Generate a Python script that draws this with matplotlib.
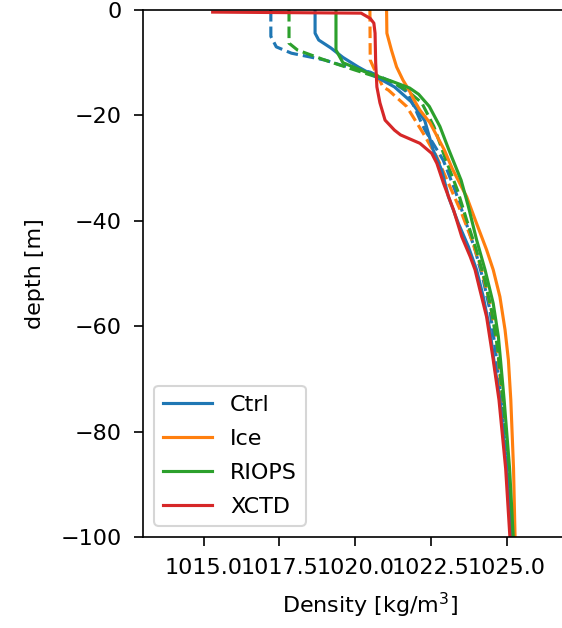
import matplotlib
matplotlib.use("Agg")
import matplotlib.pyplot as plt

# Density profiles (kg/m^3) against depth (m); "_sat" profiles are drawn dashed
ctrl_depth = [0, -4.4, -5.7, -7.2, -9.0, -10.8, -12.7, -14.6, -17.4, -21.0, -25.0, -26.6, -30.4, -35.4, -40.5, -44.9, -49.3, -54.4, -60.7, -66.4, -74.0, -87.0, -100.0]
ctrl_rho = [1018.68, 1018.68, 1018.80, 1019.20, 1019.60, 1020.10, 1020.70, 1021.30, 1021.85, 1022.30, 1022.50, 1022.58, 1022.86, 1023.08, 1023.41, 1023.74, 1024.01, 1024.23, 1024.45, 1024.58, 1024.78, 1025.00, 1025.16]

ctrl_sat_depth = [0, -5.0, -7.0, -8.2, -8.9, -9.5, -10.4, -11.8, -13.9, -15.5, -18.3, -20.9, -22.8, -28.5, -34.2, -39.8, -45.5, -51.2, -56.9, -63.9, -74.0, -87.0, -100.0]
ctrl_sat_rho = [1017.22, 1017.22, 1017.40, 1017.90, 1018.50, 1019.00, 1019.50, 1020.50, 1021.30, 1021.70, 1021.95, 1022.15, 1022.31, 1022.91, 1023.30, 1023.63, 1023.96, 1024.23, 1024.45, 1024.62, 1024.82, 1025.02, 1025.18]

ice_depth = [0, -4.4, -7.6, -10.8, -13.3, -15.2, -17.1, -19.0, -21.4, -26.6, -30.0, -34.2, -35.4, -40.5, -45.5, -49.3, -54.4, -60.7, -66.4, -74.0, -87.0, -100.0]
ice_rho = [1021.04, 1021.05, 1021.20, 1021.37, 1021.58, 1021.78, 1021.95, 1022.14, 1022.47, 1022.95, 1023.20, 1023.57, 1023.68, 1024.01, 1024.34, 1024.56, 1024.78, 1024.95, 1025.06, 1025.14, 1025.23, 1025.28]

ice_sat_depth = [0, -9.5, -10.8, -12.0, -14.6, -15.2, -18.3, -23.4, -27.8, -33.5, -38.6, -43.6, -49.3, -55.7, -62.0, -74.0, -87.0, -100.0]
ice_sat_rho = [1020.49, 1020.50, 1020.60, 1020.70, 1020.92, 1021.10, 1021.70, 1022.25, 1022.69, 1023.13, 1023.52, 1023.85, 1024.18, 1024.45, 1024.67, 1024.85, 1025.05, 1025.18]

riops_depth = [0, -7.6, -10.0, -11.9, -13.5, -14.8, -16.0, -18.3, -22.1, -26.6, -32.3, -37.3, -43.6, -49.3, -55.7, -62.0, -66.4, -74.0, -87.0, -100.0]
riops_rho = [1019.37, 1019.37, 1019.60, 1020.40, 1021.20, 1021.80, 1022.10, 1022.45, 1022.80, 1023.10, 1023.50, 1023.74, 1024.01, 1024.29, 1024.56, 1024.73, 1024.80, 1024.92, 1025.10, 1025.22]

riops_sat_depth = [0, -6.3, -7.6, -9.5, -11.4, -13.6, -15.2, -17.6, -22.1, -28.5, -34.2, -39.8, -45.5, -51.2, -56.9, -64.0, -74.0, -87.0, -100.0]
riops_sat_rho = [1017.82, 1017.82, 1018.10, 1019.00, 1020.00, 1021.20, 1021.70, 1022.20, 1022.60, 1023.00, 1023.38, 1023.68, 1024.00, 1024.28, 1024.50, 1024.70, 1024.88, 1025.06, 1025.21]

xctd_depth = [-0.4, -0.6, -1.6, -2.5, -4.4, -10.0, -14.6, -17.6, -20.9, -22.8, -23.7, -25.3, -27.2, -29.1, -32.9, -37.95, -43.0, -46.8, -49.3, -53.1, -58.2, -66.0, -74.0, -87.0, -100.0]
xctd_rho = [1015.30, 1020.20, 1020.50, 1020.62, 1020.66, 1020.68, 1020.72, 1020.82, 1020.99, 1021.30, 1021.50, 1022.14, 1022.53, 1022.70, 1022.92, 1023.25, 1023.52, 1023.80, 1023.96, 1024.12, 1024.34, 1024.55, 1024.75, 1024.97, 1025.11]

labels = ["Ctrl", "Ice", "RIOPS", "XCTD"]
xticks = [1015.0, 1017.5, 1020.0, 1022.5, 1025.0]
yticks = [0, -20, -40, -60, -80, -100]

plt.rcParams["font.size"] = 10.7

fig = plt.figure(figsize=(562 / 150, 628 / 150), dpi=150)
ax = fig.add_axes([0.2544, 0.1449, 0.8087, 0.8392])

ax.plot(ctrl_sat_rho, ctrl_sat_depth, color="C0", linestyle="--")
ax.plot(ice_sat_rho, ice_sat_depth, color="C1", linestyle="--")
ax.plot(riops_sat_rho, riops_sat_depth, color="C2", linestyle="--")
ax.plot(ctrl_rho, ctrl_depth, color="C0", label=labels[0])
ax.plot(ice_rho, ice_depth, color="C1", label=labels[1])
ax.plot(riops_rho, riops_depth, color="C2", label=labels[2])
ax.plot(xctd_rho, xctd_depth, color="C3", label=labels[3])

ax.set_xlim(1013.0, 1028.0)
ax.set_ylim(-100, 0)
ax.set_xticks(xticks)
ax.set_yticks(yticks)
ax.tick_params(axis="both", length=4.5, pad=5.5)
ax.set_xlabel("Density [kg/m$^3$]", labelpad=6)
ax.set_ylabel("depth [m]", labelpad=7.5)
ax.legend(loc="lower left", labelspacing=0.63, handlelength=2.2)

fig.savefig("out.png", dpi=150)
